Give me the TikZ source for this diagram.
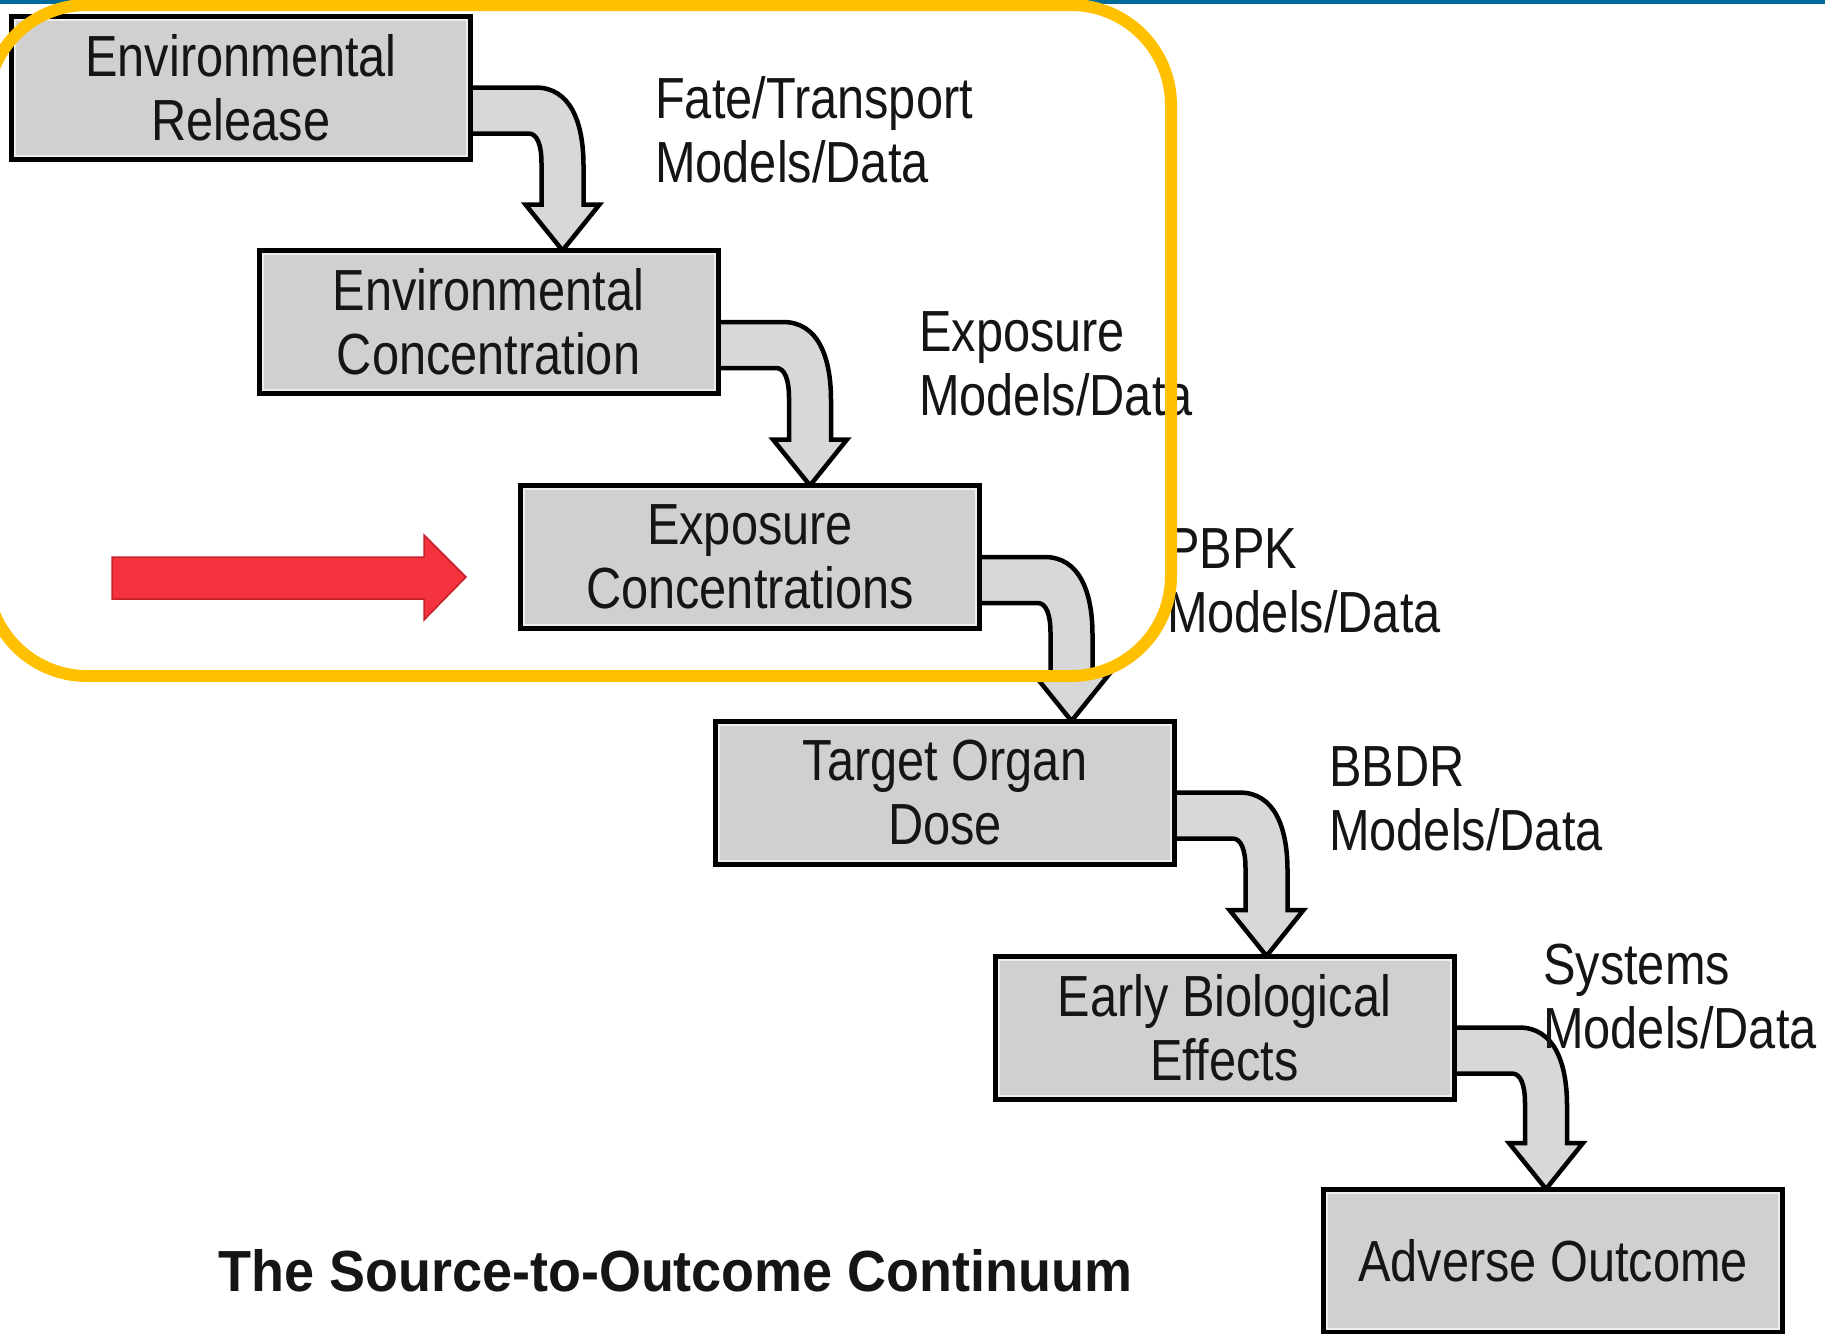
\documentclass[tikz,border=0pt]{standalone}
\usepackage{fontspec}
\setmainfont{Liberation Sans}[FakeStretch=0.84]
\newfontfamily\titlefont{Liberation Sans}[FakeStretch=0.93]
\usetikzlibrary{calc}
\pgfdeclarelayer{bg}
\pgfsetlayers{bg,main}
\definecolor{boxgray}{HTML}{D0D0D0}
\definecolor{arrgray}{HTML}{D8D8D8}
\definecolor{topblue}{HTML}{006B9A}
\definecolor{hiyellow}{HTML}{FFC000}
\definecolor{redfill}{HTML}{F5333F}
\definecolor{redline}{HTML}{C4212B}
\definecolor{inkc}{HTML}{151515}
\definecolor{innerline}{HTML}{EEEEEE}
\tikzset{
  stagebox/.style={draw=black, line width=5pt, fill=boxgray, minimum width=459pt,
    minimum height=143pt, inner sep=0pt, outer sep=0pt, align=center, text=inkc,
    font=\fontsize{58}{64}\selectfont},
  innerrim/.style={draw=innerline, line width=2pt},
  labeltext/.style={anchor=west, align=left, inner sep=0pt, text=inkc,
    font=\fontsize{58}{64}\selectfont},
  bentarr/.style={draw=black, fill=arrgray, line width=4.5pt, line join=miter},
  redarrow/.style={draw=redline, fill=redfill, line width=1.5pt},
  highlight/.style={draw=hiyellow, line width=12pt, rounded corners=100pt}
}
\newcommand\bentarrow[2]{%
  \draw[bentarr] let \p1=(#1.east), \p2=(#2.north), \p3=($(#1.east)+(92pt,0pt)$) in
    (\x1,\y1) -- (\x3-27pt,\y1)
    .. controls (\x3+8pt,\y1) and (\x3+21pt,\y1-35pt) .. (\x3+21pt,\y1-78pt)
    -- (\x3+21pt,\y2+46pt) -- (\x3+37pt,\y2+46pt) -- (\x3,\y2)
    -- (\x3-37pt,\y2+46pt) -- (\x3-21pt,\y2+46pt) -- (\x3-21pt,\y1-76pt)
    .. controls (\x3-21pt,\y1-58pt) and (\x3-25pt,\y1-46pt) .. (\x3-34pt,\y1-46pt)
    -- (\x1,\y1-46pt);%
}
\begin{document}
\begin{tikzpicture}[x=1pt,y=-1pt]
\useasboundingbox (0,0) rectangle (1825,1333);
% stages
\node[stagebox] (b1) at (241,87.5) {Environmental\\Release};
\node[stagebox] (b2) at (488.5,322) {Environmental\\Concentration};
\node[stagebox] (b3) at (750,557) {Exposure\\Concentrations};
\node[stagebox] (b4) at (945,792.5) {Target Organ\\Dose};
\node[stagebox] (b5) at (1224.5,1027.5) {Early Biological\\Effects};
\node[stagebox] (b6) at (1553,1260.5) {Adverse Outcome};
\foreach \n in {b1,b2,b3,b4,b5,b6}
  \draw[innerrim] ([shift={(3.5pt,-3.5pt)}]\n.north west) rectangle ([shift={(-3.5pt,3.5pt)}]\n.south east);
% connectors
\begin{pgfonlayer}{bg}
  \fill[topblue] (0,0) rectangle (1825,4);
  \bentarrow{b1}{b2}
  \bentarrow{b2}{b3}
  \bentarrow{b3}{b4}
  \bentarrow{b4}{b5}
  \bentarrow{b5}{b6}
\end{pgfonlayer}
% labels
\node[labeltext] (l1) at (655,129.5) {Fate/Transport\\Models/Data};
\node[labeltext] (l2) at (919,364) {Exposure\\Models/Data};
\node[labeltext] (l3) at (1167,580.5) {PBPK\\Models/Data};
\node[labeltext] (l4) at (1329,799) {BBDR\\Models/Data};
\node[labeltext] (l5) at (1543,997) {Systems\\Models/Data};
% title
\node[inner sep=0pt, text=inkc, font=\titlefont\bfseries\fontsize{58}{64}\selectfont] (title) at (675.5,1271) {The Source-to-Outcome Continuum};
% red pointer
\coordinate (redtip) at (466,577);
\draw[redarrow] (112,557) -- (424,557) -- (424,535) -- (redtip) -- (424,620) -- (424,599) -- (112,599) -- cycle;
% highlight frame
\draw[highlight] (-13,5) rectangle (1171,676);
\end{tikzpicture}
\end{document}
